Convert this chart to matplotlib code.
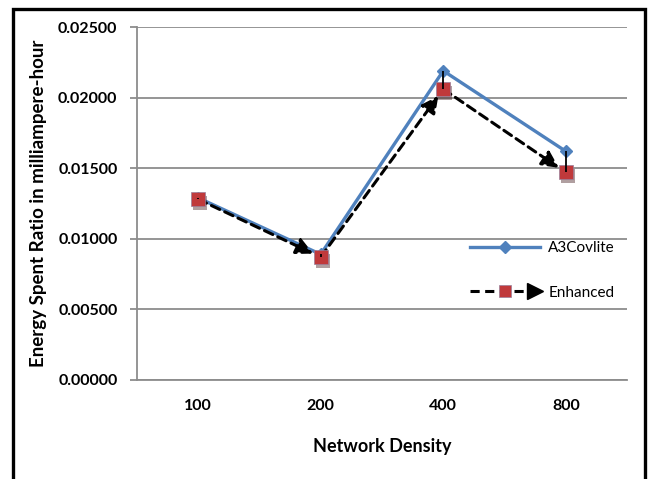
import matplotlib.pyplot as plt
from matplotlib.lines import Line2D
from matplotlib.legend_handler import HandlerLine2D
from matplotlib.patches import Rectangle
import matplotlib.patheffects as pe
from matplotlib.ticker import FormatStrFormatter

plt.rcParams['font.family'] = ['Lato', 'DejaVu Sans']

densities = ['100', '200', '400', '800']
a3covlite = [0.0129, 0.0089, 0.0219, 0.0162]
enhanced = [0.0128, 0.0087, 0.0206, 0.0147]

blue = '#4F81BD'
red = '#C0393B'


class ArrowLineHandler(HandlerLine2D):
    # dashed line + square marker + arrow head at the right end
    def create_artists(self, legend, orig_handle, xdescent, ydescent,
                       width, height, fontsize, trans):
        arts = super().create_artists(legend, orig_handle, xdescent, ydescent,
                                      width, height, fontsize, trans)
        y = (height - ydescent) / 2
        head = Line2D([width - xdescent - 4], [y], marker='>', markersize=12,
                      color='black', linestyle='none', transform=trans)
        return arts + [head]


fig = plt.figure(figsize=(6.52, 4.79), dpi=100)
ax = fig.add_axes([0.210, 0.2067, 0.7517, 0.7369])

x = list(range(len(densities)))

ax.plot(x, a3covlite, color=blue, lw=2.4, marker='D', markersize=6,
        markerfacecolor=blue, markeredgecolor=blue, zorder=3, label='A3Covlite')

# enhanced series: dashed arrows between points, then the square markers
for i in range(len(x) - 1):
    ax.annotate('', xy=(x[i + 1], enhanced[i + 1]), xytext=(x[i], enhanced[i]),
                arrowprops=dict(arrowstyle='-|>,head_length=1.0,head_width=0.5',
                                color='black', lw=2.2, linestyle=(0, (3, 1.8)),
                                shrinkA=0, shrinkB=6),
                zorder=4)
ax.plot(x, enhanced, linestyle='none', marker='s', markersize=10,
        markerfacecolor=red, markeredgecolor='#9A7F9A', markeredgewidth=0.5,
        zorder=5,
        path_effects=[pe.SimplePatchShadow(offset=(1.5, -2.5), alpha=0.4),
                      pe.Normal()])

# high-low lines between the two series
ax.vlines(x, enhanced, a3covlite, color='black', lw=1.3, zorder=6)

ax.set_xlim(-0.5, len(x) - 0.5)
ax.set_ylim(0, 0.025)
ax.set_yticks([0, 0.005, 0.01, 0.015, 0.02, 0.025])
ax.yaxis.set_major_formatter(FormatStrFormatter('%.5f'))
ax.set_xticks(x)
ax.set_xticklabels(densities)

ax.grid(axis='y', color='#8C8C8C', lw=1.3)
ax.set_axisbelow(True)
for side in ['top', 'right']:
    ax.spines[side].set_visible(False)
for side in ['left', 'bottom']:
    ax.spines[side].set_color('#8C8C8C')
    ax.spines[side].set_linewidth(1.3)

ax.tick_params(axis='y', length=5, width=1.3, color='#8C8C8C', pad=9,
               labelsize=11.5)
ax.tick_params(axis='x', length=0, pad=14, labelsize=11.5)
for lab in ax.get_xticklabels() + ax.get_yticklabels():
    lab.set_fontweight('bold')

ax.set_xlabel('Network Density', fontsize=13, fontweight='bold', labelpad=18)
ax.set_ylabel('Energy Spent Ratio in milliampere-hour', fontsize=13.5,
              fontweight='bold', labelpad=8)

enh_handle = Line2D([], [], color='black', lw=2.2, linestyle=(0, (3, 1.8)),
                    marker='s', markersize=9, markerfacecolor=red,
                    markeredgecolor='#9A7F9A', markeredgewidth=0.5)
handles = [ax.get_lines()[0], enh_handle]
ax.legend(handles, ['A3Covlite', 'Enhanced'], loc='center left',
          bbox_to_anchor=(0.652, 0.31), frameon=False, fontsize=11,
          handlelength=4.6, handletextpad=0.5, labelspacing=2.0,
          handler_map={enh_handle: ArrowLineHandler(numpoints=1)})

# outer frame (open at the bottom)
fig.add_artist(Rectangle((13 / 652, -0.1), (645 - 13) / 652, 1.1 - 9 / 479,
                         transform=fig.transFigure, fill=False,
                         edgecolor='black', lw=2.4))

fig.savefig('out.png', dpi=100)
